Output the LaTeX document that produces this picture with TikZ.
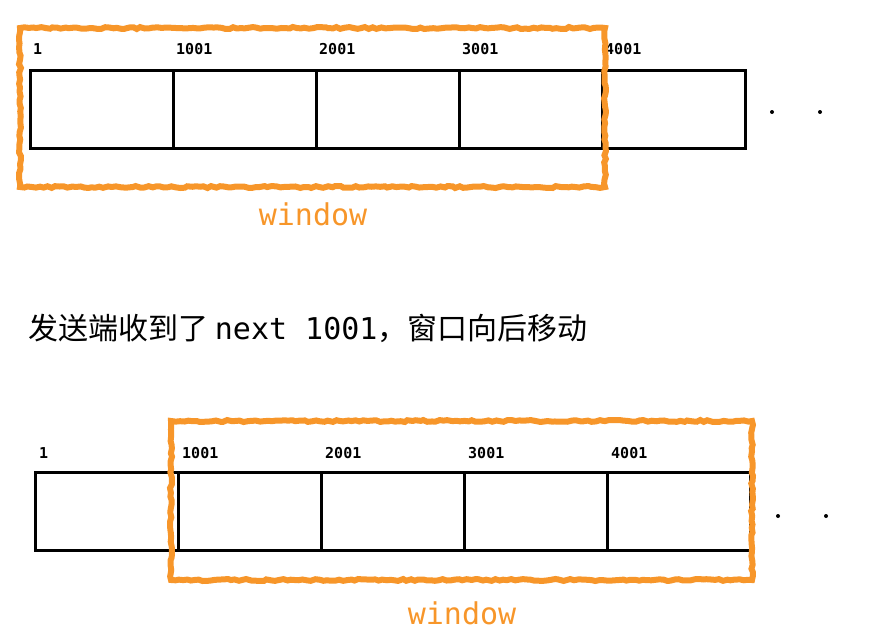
\documentclass[tikz,border=0pt]{standalone}
\usepackage{fontspec}
\setmonofont{DejaVu Sans Mono}
\newfontfamily\cjk{Noto Sans CJK SC}
\usetikzlibrary{positioning,decorations.pathmorphing}
\definecolor{winorange}{HTML}{F7962A}
\tikzset{
	cell/.style={draw, line width=3.4pt, minimum width=143pt, minimum height=78pt, inner sep=0pt},
	seqlabel/.style={font=\ttfamily\bfseries\fontsize{15}{17}\selectfont, anchor=base west, inner sep=0pt},
	winbox/.style={draw=winorange, line width=6pt, decorate, decoration={random steps, segment length=4pt, amplitude=1pt}},
	winlabel/.style={text=winorange, font=\ttfamily\fontsize{30}{34}\selectfont},
	dot/.style={circle, fill, inner sep=0pt, minimum size=4pt}
}
\begin{document}
\begin{tikzpicture}[x=1pt, y=-1pt]
	\useasboundingbox (0, 0) rectangle (890, 642);

	% first row
	\foreach \i/\n in {0/1, 1/1001, 2/2001, 3/3001, 4/4001} {
		\node[cell, anchor=north west] (a\i) at (29 + 143*\i, 69) {};
		\node[seqlabel] (la\i) at (33 + 143*\i, 55) {\n};
	}
	\node[dot] (adot1) at (772, 112) {};
	\node[dot] (adot2) at (820, 112) {};
	\draw[winbox] (20, 28) rectangle (605, 187);
	\node[winlabel] (wa) at (313, 214) {window};

	\node[anchor=west, inner sep=0pt] (msg) at (28, 328)
		{\fontsize{30}{34}\selectfont\cjk 发送端收到了 \ttfamily next 1001\cjk ，窗口向后移动};

	% second row
	\foreach \i/\n in {0/1, 1/1001, 2/2001, 3/3001, 4/4001} {
		\node[cell, anchor=north west] (b\i) at (34 + 143*\i, 471) {};
		\node[seqlabel] (lb\i) at (39 + 143*\i, 458) {\n};
	}
	\node[dot] (bdot1) at (778, 516) {};
	\node[dot] (bdot2) at (826, 516) {};
	\draw[winbox] (171, 421) rectangle (752, 580);
	\node[winlabel] (wb) at (462, 613) {window};
\end{tikzpicture}
\end{document}
